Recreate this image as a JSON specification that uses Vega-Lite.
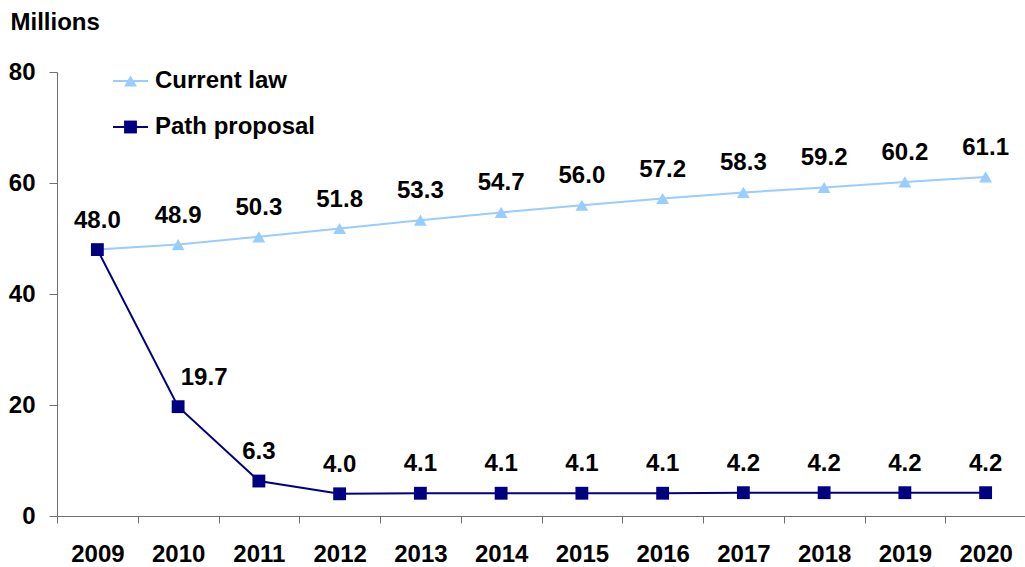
{
  "$schema": "https://vega.github.io/schema/vega-lite/v6.json",
  "width": 969,
  "height": 444,
  "autosize": {"type": "none"},
  "padding": {"left": 57, "top": 72, "right": 0, "bottom": 51},
  "background": "white",
  "config": {
    "view": {"stroke": null},
    "font": "Liberation Sans",
    "axis": {
      "labelFont": "Liberation Sans",
      "labelFontSize": 24,
      "labelFontWeight": "bold",
      "labelColor": "#000000",
      "titleFont": "Liberation Sans",
      "titleColor": "#000000",
      "domainColor": "#707070",
      "tickColor": "#707070",
      "grid": false
    }
  },
  "data": {
    "values": [
      {"year": 2009, "series": "Current law", "value": 48.0},
      {"year": 2010, "series": "Current law", "value": 48.9},
      {"year": 2011, "series": "Current law", "value": 50.3},
      {"year": 2012, "series": "Current law", "value": 51.8},
      {"year": 2013, "series": "Current law", "value": 53.3},
      {"year": 2014, "series": "Current law", "value": 54.7},
      {"year": 2015, "series": "Current law", "value": 56.0},
      {"year": 2016, "series": "Current law", "value": 57.2},
      {"year": 2017, "series": "Current law", "value": 58.3},
      {"year": 2018, "series": "Current law", "value": 59.2},
      {"year": 2019, "series": "Current law", "value": 60.2},
      {"year": 2020, "series": "Current law", "value": 61.1},
      {"year": 2009, "series": "Path proposal", "value": 48.0},
      {"year": 2010, "series": "Path proposal", "value": 19.7},
      {"year": 2011, "series": "Path proposal", "value": 6.3},
      {"year": 2012, "series": "Path proposal", "value": 4.0},
      {"year": 2013, "series": "Path proposal", "value": 4.1},
      {"year": 2014, "series": "Path proposal", "value": 4.1},
      {"year": 2015, "series": "Path proposal", "value": 4.1},
      {"year": 2016, "series": "Path proposal", "value": 4.1},
      {"year": 2017, "series": "Path proposal", "value": 4.2},
      {"year": 2018, "series": "Path proposal", "value": 4.2},
      {"year": 2019, "series": "Path proposal", "value": 4.2},
      {"year": 2020, "series": "Path proposal", "value": 4.2}
    ]
  },
  "encoding": {
    "x": {
      "field": "year",
      "type": "ordinal",
      "scale": {"type": "band", "paddingInner": 0, "paddingOuter": 0},
      "axis": {
        "title": null,
        "labelAngle": 0,
        "labelPadding": 19,
        "tickSize": 7,
        "tickBand": "extent"
      }
    },
    "y": {
      "field": "value",
      "type": "quantitative",
      "scale": {"domain": [0, 80]},
      "axis": {
        "title": "Millions",
        "titleAngle": 0,
        "titleAlign": "left",
        "titleBaseline": "alphabetic",
        "titleX": -47,
        "titleY": -43,
        "titleFontSize": 24,
        "titleFontWeight": "bold",
        "values": [0, 20, 40, 60, 80],
        "tickSize": 8,
        "labelPadding": 14
      }
    }
  },
  "layer": [
    {
      "mark": {"type": "line", "strokeWidth": 2},
      "encoding": {
        "color": {
          "field": "series",
          "type": "nominal",
          "scale": {"range": ["#99CCFF", "#000080"]},
          "legend": {
            "orient": "none",
            "legendX": 55,
            "legendY": -5,
            "title": null,
            "padding": 0,
            "clipHeight": 28,
            "rowPadding": 18,
            "symbolType": "stroke",
            "symbolSize": 1225,
            "symbolStrokeWidth": 2,
            "labelFontSize": 24,
            "labelFontWeight": "bold",
            "labelExpr": "''"
          }
        }
      }
    },
    {
      "mark": {"type": "point", "filled": true, "size": 165, "opacity": 1},
      "encoding": {
        "fill": {
          "field": "series",
          "type": "nominal",
          "scale": {"domain": ["Current law", "Path proposal"], "range": ["#99CCFF", "#000080"]},
          "legend": {
            "orient": "none",
            "legendX": 55,
            "legendY": -5,
            "title": null,
            "padding": 0,
            "clipHeight": 28,
            "rowPadding": 18,
            "symbolSize": 165,
            "symbolStrokeWidth": 0,
            "symbolOpacity": 1,
            "symbolOffset": 6.5,
            "labelOffset": 12.5,
            "labelLimit": 0,
            "labelFont": "Liberation Sans",
            "labelFontSize": 24,
            "labelFontWeight": "bold",
            "labelColor": "#000000"
          }
        },
        "shape": {
          "field": "series",
          "type": "nominal",
          "scale": {"domain": ["Current law", "Path proposal"], "range": ["triangle-up", "square"]},
          "legend": {
            "orient": "none",
            "legendX": 55,
            "legendY": -5,
            "title": null,
            "padding": 0,
            "clipHeight": 28,
            "rowPadding": 18,
            "symbolSize": 165,
            "symbolStrokeWidth": 0,
            "symbolOpacity": 1,
            "symbolOffset": 6.5,
            "labelOffset": 12.5,
            "labelLimit": 0,
            "labelFont": "Liberation Sans",
            "labelFontSize": 24,
            "labelFontWeight": "bold",
            "labelColor": "#000000"
          }
        }
      }
    },
    {
      "transform": [{"filter": "(datum.series !== 'Current law' || datum.year !== 2009) && (datum.series !== 'Path proposal' || datum.year !== 2010)"}],
      "mark": {
        "type": "text",
        "fontSize": 24,
        "fontWeight": "bold",
        "font": "Liberation Sans",
        "baseline": "middle",
        "dy": -29,
        "color": "#000000"
      },
      "encoding": {
        "text": {"field": "value", "type": "quantitative", "format": ".1f"}
      }
    },
    {
      "transform": [{"filter": "datum.series === 'Path proposal' && datum.year === 2010"}],
      "mark": {
        "type": "text",
        "fontSize": 24,
        "fontWeight": "bold",
        "font": "Liberation Sans",
        "baseline": "middle",
        "dx": 26,
        "dy": -29,
        "color": "#000000"
      },
      "encoding": {
        "text": {"field": "value", "type": "quantitative", "format": ".1f"}
      }
    }
  ]
}
